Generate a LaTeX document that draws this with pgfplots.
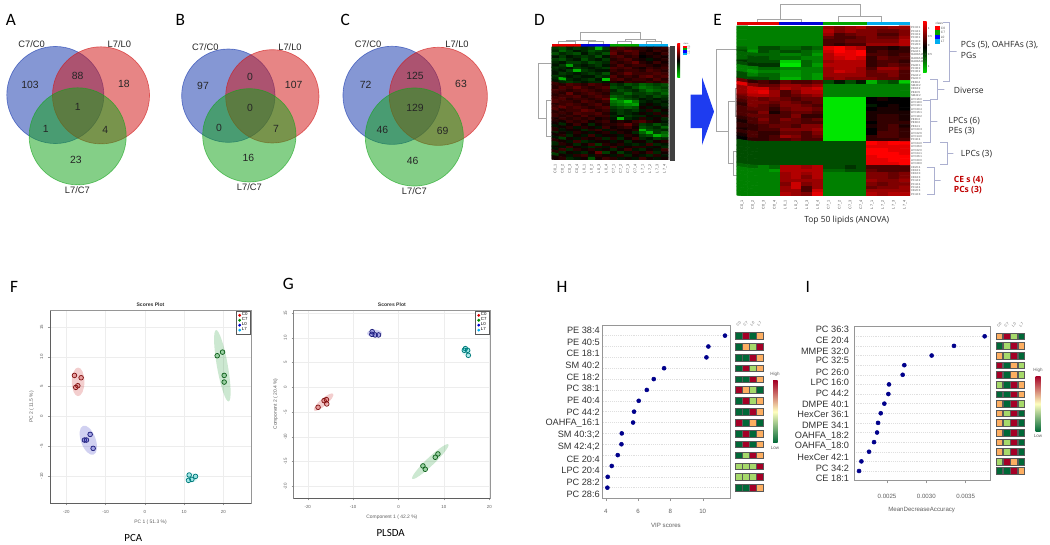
\documentclass[border=0pt]{standalone}
\usepackage{fontspec}
\usepackage{pgfplots}
\pgfplotsset{compat=1.18}
\setmainfont{Liberation Sans}
\newfontfamily\capfont{Carlito}
\newfontfamily\notefont{Open Sans}
\newcommand\fs[1]{\fontsize{#1}{#1}\selectfont}

\definecolor{vblue}{RGB}{21,55,173}
\definecolor{vred}{RGB}{209,21,21}
\definecolor{vgreen}{RGB}{19,163,25}
\definecolor{cz}{RGB}{200,30,30}
\definecolor{cs}{RGB}{25,150,45}
\definecolor{lz}{RGB}{45,45,190}
\definecolor{ls}{RGB}{0,190,190}
\definecolor{bracec}{RGB}{172,176,208}
\definecolor{dend}{RGB}{165,165,165}
\definecolor{boxg}{RGB}{150,150,150}
\definecolor{axg}{RGB}{95,95,95}
\definecolor{tzero}{RGB}{0,104,55}
\definecolor{tone}{RGB}{166,217,106}
\definecolor{ttwo}{RGB}{253,174,97}
\definecolor{tthree}{RGB}{165,0,38}
\definecolor{tmid}{RGB}{255,255,191}

\pgfplotsset{
  overlay/.style args={#1/#2/#3/#4}{at={(0,0)},anchor=north west,width=787.5pt,height=408.75pt,
    scale only axis,axis lines=none,clip=false,y dir=reverse,
    xmin=#1,xmax=#2,ymin=#3,ymax=#4},
  venn/.style 2 args={only marks,forget plot,mark=*,mark size=#1,
    mark options={draw=#2,fill=#2,fill opacity=.52,draw opacity=.6,line width=.5pt}},
  ring/.style={only marks,forget plot,mark=*,mark size=1.75pt,
    mark options={draw=#1!65!black,fill=#1,fill opacity=.28,line width=.55pt}},
  blob/.style 2 args={only marks,forget plot,mark=*,mark options={draw=#1,draw opacity=0,fill=#1,fill opacity=.22,#2}},
  scores/.style={scale only axis,anchor=north west,axis line style={boxg,line width=.5pt},
    grid=major,grid style={gray!14,line width=.25pt},tick style={boxg,line width=.3pt},
    major tick length=1.6pt,tick align=outside,xtick pos=bottom,ytick pos=left,
    /pgf/number format/assume math mode=true,
    tick label style={font=\fs{3.3},text=axg},
    y tick label style={rotate=90,anchor=south},
    title style={font=\bfseries\fs{3.8},text=black!80,yshift=-7.5pt},
    label style={font=\fs{3.7},text=axg},
    legend style={at={(1,1)},anchor=north east,draw=black!65,line width=.5pt,font=\fs{3.3},
      inner xsep=1.6pt,inner ysep=.5pt,row sep=-1.7pt,nodes={inner sep=.8pt}},
    legend cell align=left},
  vip/.style={scale only axis,anchor=north west,axis line style={boxg,line width=.7pt},
    ytick={1,...,15},yticklabels={},ytick style={draw=none},
    ymajorgrids,grid style={gray!25,densely dotted,line width=.3pt},
    tick style={boxg,line width=.3pt},xtick pos=bottom,tick align=outside,major tick length=2pt,
    tick label style={font=\fs{4.6},text=axg},label style={font=\fs{4.6},text=axg},
    /pgf/number format/assume math mode=true},
  heat/.style={scale only axis,anchor=north west,enlargelimits=false,axis line style={draw=none},
    major tick length=0pt,xtick={0,...,15},
    colormap={gbr}{rgb=(0,1,0) rgb=(0,0,0) rgb=(1,0,0)},
    x tick label style={rotate=90,anchor=east,font=\fs{2.8},text=black!70}},
}
% tiles of one colour: column and row of each tile
\newcommand\tiles[5]{\addplot[only marks,mark=square*,mark size=2.5pt,
    mark options={draw=black!65,fill=#5,line width=.3pt}]
  table[row sep=crcr,header=false,x expr={#1+#2*\thisrowno{0}},y expr={#3+#4*\thisrowno{1}}]}
\newcommand\cnt[3]{\node[font=\fs{7.8},text=black!85] at (axis cs:#1,#2) {#3};}
\newcommand\vlab[3]{\node[font=\fs{7},text=black!85] at (axis cs:#1,#2) {#3};}
\newcommand\panel[3]{\node[font=\capfont\fs{13}] at (axis cs:#1,#2) {#3};}
\newcommand\note[3]{\node[font=\notefont\fs{6.4},text=black!85,anchor=west,inner sep=0] at (axis cs:#1,#2) {#3};}
\newcommand\rednote[3]{\node[font=\notefont\bfseries\fs{6.4},text=red!75!black,anchor=west,inner sep=0] at (axis cs:#1,#2) {#3};}
\newcommand\lip[3]{\node[font=\fs{6.9},text=black!80,anchor=east,inner sep=0] at (axis cs:#1,#2) {#3};}
\newcommand\tinyl[4]{\node[font=\fs{#1},text=black!70,anchor=west,inner sep=0] at (axis cs:#2,#3) {#4};}
\newcommand\colh[3]{\node[font=\fs{2.8},text=black!60,rotate=45] at (axis cs:#1,#2) {#3};}

\begin{document}
\begin{tikzpicture}
\useasboundingbox (0,0) rectangle (787.5pt,-408.75pt);

% ---------- Venn diagrams A B C, coordinates are 3x picture pixels
\begin{axis}[overlay=0/3150/0/1635]
\addplot[venn={36.4pt}{vblue}] coordinates {(166,285)};
\addplot[venn={36.4pt}{vred}] coordinates {(303,286)};
\addplot[venn={36.4pt}{vgreen}] coordinates {(233,409)};
\addplot[venn={35pt}{vblue}] coordinates {(685,287)};
\addplot[venn={35pt}{vred}] coordinates {(817,289)};
\addplot[venn={35pt}{vgreen}] coordinates {(748,406)};
\addplot[venn={36.8pt}{vblue}] coordinates {(1176,286)};
\addplot[venn={36.8pt}{vred}] coordinates {(1315,289)};
\addplot[venn={36.8pt}{vgreen}] coordinates {(1243,411)};
\end{axis}
\begin{axis}[overlay=0/3150/0/1635]
\cnt{90}{255}{103}\cnt{233}{228}{88}\cnt{372}{251}{18}\cnt{233}{322}{1}\cnt{137}{386}{1}\cnt{316}{390}{4}\cnt{228}{480}{23}
\cnt{609}{257}{97}\cnt{750}{232}{0}\cnt{881}{255}{107}\cnt{750}{323}{0}\cnt{657}{385}{0}\cnt{828}{386}{7}\cnt{745}{473}{16}
\cnt{1097}{256}{72}\cnt{1245}{229}{125}\cnt{1383}{253}{63}\cnt{1245}{325}{129}\cnt{1147}{390}{46}\cnt{1328}{393}{69}\cnt{1238}{484}{46}
\vlab{95}{133}{C7/C0}\vlab{358}{133}{L7/L0}\vlab{232}{570}{L7/C7}
\vlab{616}{142}{C7/C0}\vlab{870}{142}{L7/L0}\vlab{748}{560}{L7/C7}
\vlab{1104}{133}{C7/C0}\vlab{1371}{133}{L7/L0}\vlab{1243}{574}{L7/C7}
\panel{33}{60}{A}\panel{541}{60}{B}\panel{1036}{60}{C}
\end{axis}

% ---------- annotation of D and E
\begin{axis}[overlay=-1590/1560/0/1635]
\panel{28}{60}{D}\panel{563}{60}{E}
% class bars
\addplot[fill=red!90!black,draw=none] coordinates {(65,131)(153,131)(153,140)(65,140)} --cycle;
\addplot[fill=blue!85!black,draw=none] coordinates {(153,131)(241,131)(241,140)(153,140)} --cycle;
\addplot[fill=green!65!black,draw=none] coordinates {(241,131)(328,131)(328,140)(241,140)} --cycle;
\addplot[fill=cyan,draw=none] coordinates {(328,131)(415,131)(415,140)(328,140)} --cycle;
\addplot[fill=red!90!black,draw=none] coordinates {(620,66)(748,66)(748,76)(620,76)} --cycle;
\addplot[fill=blue!85!black,draw=none] coordinates {(748,66)(878,66)(878,76)(748,76)} --cycle;
\addplot[fill=green!65!black,draw=none] coordinates {(878,66)(1010,66)(1010,76)(878,76)} --cycle;
\addplot[fill=cyan,draw=none] coordinates {(1010,66)(1140,66)(1140,76)(1010,76)} --cycle;
% dendrograms of D
\addplot[dend,line width=.45pt] coordinates {(110,125)(110,120)(151,120)(151,97)(330,97)(330,118)(285,118)(285,125)};
\addplot[dend,line width=.45pt] coordinates {(195,125)(195,120)(151,120)};
\addplot[dend,line width=.45pt] coordinates {(375,125)(375,118)(330,118)};
\addplot[dend,line width=.35pt] coordinates {(85,131)(85,125)(135,125)(135,131)};
\addplot[dend,line width=.35pt] coordinates {(175,131)(175,125)(220,125)(220,131)};
\addplot[dend,line width=.35pt] coordinates {(262,131)(262,125)(305,125)(305,131)};
\addplot[dend,line width=.35pt] coordinates {(350,131)(350,125)(395,125)(395,131)};
\addplot[dend,line width=.45pt] coordinates {(62,190)(25,190)(25,355)(50,355)(50,300)(62,300)};
\addplot[dend,line width=.45pt] coordinates {(50,355)(50,410)(62,410)};
% dendrograms of E
\addplot[dend,line width=.55pt] coordinates {(683,66)(683,58)(750,58)(750,14)(990,14)(990,50)(925,50)(925,66)};
\addplot[dend,line width=.55pt] coordinates {(815,66)(815,58)(750,58)};
\addplot[dend,line width=.55pt] coordinates {(1055,66)(1055,50)(990,50)};
\addplot[dend,line width=.55pt] coordinates {(620,148)(560,148)(560,395)(595,395)(595,305)(615,305)};
\addplot[dend,line width=.55pt] coordinates {(620,265)(615,265)(615,350)(620,350)};
\addplot[dend,line width=.55pt] coordinates {(595,395)(595,490)(610,490)};
\addplot[dend,line width=.55pt] coordinates {(620,455)(610,455)(610,525)(620,525)};
% dark strip right of D
\addplot[fill=black!75,draw=none] coordinates {(420,137)(436,137)(436,482)(420,482)} --cycle;
\addplot[fill=black!40,draw=none] coordinates {(416,141)(420,141)(420,480)(416,480)} --cycle;
% colour keys
\shade[top color=red,bottom color=green!85!black,middle color=black] (axis cs:442,131) rectangle (axis cs:450,232);
\shade[top color=red,bottom color=green!85!black,middle color=black] (axis cs:1179,65) rectangle (axis cs:1190,218);
\addplot[fill=red,draw=none] coordinates {(460,137)(470,137)(470,144)(460,144)} --cycle;
\addplot[fill=green!65!black,draw=none] coordinates {(460,144)(470,144)(470,151)(460,151)} --cycle;
\addplot[fill=blue,draw=none] coordinates {(460,151)(470,151)(470,158)(460,158)} --cycle;
\addplot[fill=cyan,draw=none] coordinates {(460,158)(470,158)(470,165)(460,165)} --cycle;
\addplot[fill=red,draw=none] coordinates {(1215,78)(1230,78)(1230,91)(1215,91)} --cycle;
\addplot[fill=green!65!black,draw=none] coordinates {(1215,91)(1230,91)(1230,105)(1215,105)} --cycle;
\addplot[fill=blue,draw=none] coordinates {(1215,105)(1230,105)(1230,118)(1215,118)} --cycle;
\addplot[fill=cyan,draw=none] coordinates {(1215,118)(1230,118)(1230,132)(1215,132)} --cycle;
\tinyl{2.4}{1232}{84}{C0}\tinyl{2.4}{1232}{98}{C7}\tinyl{2.4}{1232}{111}{L0}\tinyl{2.4}{1232}{125}{L7}
\tinyl{2.4}{1216}{71}{class}
\tinyl{1.6}{472}{140}{C0}\tinyl{1.6}{472}{147}{C7}\tinyl{1.6}{472}{154}{L0}\tinyl{1.6}{472}{161}{L7}
\tinyl{1.6}{460}{132}{class}
\tinyl{2.2}{1193}{84}{1}\tinyl{2.2}{1193}{110}{0.5}\tinyl{2.2}{1193}{136}{0}\tinyl{2.2}{1193}{162}{0.5}\tinyl{2.2}{1193}{198}{1}
% arrow
\addplot[fill={rgb,255:red,30;green,60;blue,240},draw=none] coordinates
  {(482,284)(516,284)(516,232)(552,335)(516,435)(516,384)(482,384)} --cycle;
% brackets
\addplot[bracec,line width=.55pt] coordinates {(1238,68)(1258,68)(1258,155)(1280,155)(1258,155)(1258,245)(1238,245)};
\addplot[bracec,line width=.55pt] coordinates {(1200,237)(1222,237)(1222,268)(1243,268)(1222,268)(1222,298)(1200,298)};
\addplot[bracec,line width=.55pt] coordinates {(1180,300)(1200,300)(1200,365)(1222,365)(1200,365)(1200,428)(1180,428)};
\addplot[bracec,line width=.55pt] coordinates {(1230,428)(1252,428)(1252,460)(1270,460)(1252,460)(1252,493)(1230,493)};
\addplot[bracec,line width=.55pt] coordinates {(1190,502)(1212,502)(1212,542)(1232,542)(1212,542)(1212,582)(1190,582)};
\note{1292}{135}{PCs (5), OAHFAs (3),}\note{1292}{165}{PGs}\note{1271}{272}{Diverse}
\note{1255}{362}{LPCs (6)}\note{1255}{393}{PEs (3)}\note{1292}{461}{LPCs (3)}
\rednote{1271}{540}{CE s (4)}\rednote{1271}{570}{PCs (3)}
\node[font=\notefont\fs{6.35},text=black!85] at (axis cs:950,661) {Top 50 lipids (ANOVA)};
\end{axis}

% ---------- heat map D
\begin{axis}[heat,at={(413.78pt,-35.25pt)},width=87.45pt,height=84.75pt,y dir=reverse,
  xmin=-.5,xmax=15.5,ymin=-.5,ymax=39.5,ytick=\empty,point meta min=-13,point meta max=13,
  xticklabels={C0\_1,C0\_2,C0\_3,C0\_4,L0\_1,L0\_2,L0\_3,L0\_4,C7\_1,C7\_2,C7\_3,C7\_4,L7\_1,L7\_2,L7\_3,L7\_4}]
\addplot[matrix plot*,mesh/cols=16,point meta=explicit] table[row sep=crcr,header=false,meta index=0,
  x expr={mod(\coordindex,16)},y expr={floor(\coordindex/16)}] {
-3\\-4\\-2\\-3\\-2\\-3\\-9\\-3\\3\\4\\3\\2\\2\\1\\2\\3\\
-2\\-5\\-3\\-1\\-2\\-4\\-3\\-2\\4\\3\\5\\4\\2\\1\\3\\2\\
-4\\-2\\-3\\-4\\-1\\-3\\-2\\-4\\5\\2\\3\\4\\1\\2\\1\\3\\
-1\\-3\\-1\\-2\\-3\\-2\\-4\\-1\\3\\4\\2\\3\\0\\1\\2\\1\\
-3\\-4\\-2\\-1\\-4\\-2\\-1\\-3\\2\\3\\4\\2\\1\\-1\\1\\2\\
-2\\-1\\-3\\-3\\-2\\-4\\-3\\-2\\3\\2\\3\\5\\2\\1\\3\\1\\
-1\\-3\\-8\\-2\\-1\\-2\\-3\\-1\\2\\4\\2\\3\\3\\2\\1\\2\\
-3\\-2\\-1\\-3\\-2\\-1\\-2\\-3\\4\\3\\4\\2\\1\\3\\2\\3\\
-2\\-1\\-3\\-9\\-3\\-2\\-1\\-1\\3\\2\\3\\3\\2\\4\\3\\2\\
-1\\-3\\-2\\-1\\-2\\-3\\-2\\-4\\2\\3\\5\\3\\3\\3\\4\\3\\
-3\\-2\\-1\\-2\\-1\\-1\\-3\\-2\\4\\2\\3\\2\\4\\5\\3\\4\\
-2\\-9\\-2\\-1\\-2\\-3\\-1\\-10\\3\\4\\2\\3\\3\\2\\4\\2\\
-1\\-2\\-3\\-2\\-1\\-2\\-2\\-1\\2\\1\\3\\2\\2\\3\\2\\3\\
3\\2\\4\\3\\2\\4\\3\\2\\-3\\-2\\-4\\-3\\-5\\-4\\-3\\-4\\
2\\4\\3\\5\\3\\2\\3\\4\\-4\\-3\\-2\\-4\\-6\\-5\\-4\\-3\\
4\\3\\2\\3\\4\\3\\2\\3\\-2\\-4\\-3\\-2\\-4\\-6\\-5\\-4\\
3\\2\\5\\2\\3\\4\\3\\2\\-3\\-3\\-5\\-3\\-3\\-4\\-3\\-5\\
2\\3\\3\\4\\2\\3\\4\\3\\-5\\-4\\-3\\-2\\-3\\-2\\-4\\-3\\
3\\4\\2\\3\\3\\2\\3\\5\\-9\\-5\\-4\\-3\\-1\\-2\\-1\\-2\\
4\\3\\3\\2\\4\\3\\2\\3\\-6\\-7\\-10\\-6\\-2\\-1\\-2\\-1\\
2\\3\\4\\3\\2\\3\\4\\2\\-5\\-6\\-7\\-8\\-1\\1\\-1\\-2\\
3\\5\\3\\4\\3\\2\\3\\4\\-3\\-4\\-5\\-4\\1\\-1\\1\\-1\\
4\\2\\3\\3\\5\\4\\2\\3\\-2\\-3\\-2\\-3\\-1\\2\\-2\\1\\
2\\3\\2\\4\\3\\3\\4\\2\\-1\\-3\\-2\\-1\\1\\-1\\2\\-1\\
3\\2\\3\\2\\4\\2\\3\\3\\-2\\-1\\-3\\-2\\-2\\1\\-1\\2\\
1\\3\\2\\3\\2\\3\\1\\2\\-1\\-9\\-2\\-1\\2\\-1\\1\\-2\\
2\\1\\3\\2\\3\\1\\2\\3\\1\\2\\1\\3\\4\\2\\1\\-1\\
1\\-2\\1\\3\\1\\-2\\1\\2\\2\\3\\5\\2\\-3\\-2\\-4\\-2\\
-1\\1\\2\\-1\\2\\1\\-1\\3\\1\\2\\3\\1\\-4\\-3\\-2\\-5\\
2\\-1\\1\\1\\-2\\2\\3\\-1\\2\\1\\1\\2\\-9\\-4\\-3\\-2\\
-2\\1\\-1\\2\\1\\-1\\1\\2\\-1\\2\\1\\-2\\-5\\-9\\-3\\-5\\
1\\2\\-2\\1\\-1\\3\\-1\\1\\1\\-1\\2\\1\\-3\\-4\\-9\\-6\\
-1\\-3\\1\\-1\\2\\1\\2\\-2\\2\\-2\\1\\3\\-2\\-1\\-3\\-2\\
2\\1\\-1\\3\\-2\\-1\\1\\1\\-1\\1\\-2\\1\\1\\-2\\1\\2\\
-2\\2\\1\\-2\\1\\3\\-3\\2\\1\\2\\-1\\-2\\-1\\3\\-2\\-1\\
1\\-1\\3\\1\\-1\\-2\\2\\-1\\3\\-1\\1\\2\\2\\-1\\1\\-2\\
-1\\3\\-2\\2\\1\\2\\-1\\1\\-2\\1\\3\\-1\\-2\\1\\-1\\3\\
2\\-2\\1\\-1\\-2\\1\\5\\-3\\1\\-3\\-1\\2\\1\\3\\-2\\1\\
-3\\1\\-1\\2\\3\\-1\\2\\1\\-1\\2\\-2\\1\\-1\\-2\\2\\-1\\
1\\2\\-2\\-1\\1\\-4\\1\\3\\2\\-1\\1\\-1\\3\\1\\-1\\1\\
};
\end{axis}

% ---------- heat map E
\begin{axis}[heat,at={(552.53pt,-19.5pt)},width=130pt,height=127.5pt,y dir=reverse,
  xmin=-.5,xmax=15.5,ymin=-.5,ymax=49.5,ytick={0,...,49},yticklabel pos=right,point meta min=-10,point meta max=10,
  y tick label style={font=\fs{2.1},text=black!70,inner sep=.6pt},
  yticklabels={PC32:1,PC34:1,PC32:2,PC36:1,PC30:0,PC28:0,PG36:2,PG34:1,OAHFA16:1,OAHFA18:1,OAHFA18:2,PG36:1,PC38:2,PC36:2,PG34:2,PG32:0,
    PE38:4,SM40:2,CE18:2,PE40:5,SM42:2,LPC16:0,LPC18:0,LPC18:1,LPC20:4,LPC16:1,LPC18:2,PE36:2,PE38:2,PE34:1,LPC20:3,LPC22:6,LPC14:0,PC40:4,
    LPC24:0,LPC26:0,LPC22:0,LPC24:1,LPC26:1,LPC20:0,LPC28:0,CE20:4,CE18:1,CE16:0,CE18:3,PC44:2,PC42:4,PC44:4,CE20:3,PC42:3},
  xticklabels={C0\_1,C0\_2,C0\_3,C0\_4,L0\_1,L0\_2,L0\_3,L0\_4,C7\_1,C7\_2,C7\_3,C7\_4,L7\_1,L7\_2,L7\_3,L7\_4}]
\addplot[matrix plot*,mesh/cols=16,point meta=explicit] table[row sep=crcr,header=false,meta index=0,
  x expr={mod(\coordindex,16)},y expr={floor(\coordindex/16)}] {
-5\\-5\\-5\\-5\\-5\\-5\\-5\\-5\\6\\5\\6\\7\\5\\5\\6\\6\\
-5\\-5\\-5\\-5\\-5\\-5\\-5\\-5\\7\\5\\6\\5\\5\\4\\4\\5\\
-5\\-5\\-5\\-5\\-5\\-5\\-5\\-5\\6\\3\\4\\5\\5\\3\\3\\5\\
-5\\-5\\-5\\-5\\-5\\-5\\-5\\-5\\4\\3\\3\\4\\5\\4\\4\\6\\
-5\\-5\\-5\\-5\\-5\\-5\\-5\\-5\\3\\3\\4\\4\\5\\5\\5\\7\\
-5\\-5\\-5\\-5\\-5\\-5\\-5\\-5\\3\\2\\3\\3\\6\\6\\6\\7\\
-4\\-5\\-3\\-3\\-4\\-4\\-3\\-4\\9\\10\\8\\7\\2\\2\\1\\2\\
-3\\-6\\-3\\-4\\-3\\-3\\-4\\-5\\8\\10\\9\\10\\2\\3\\2\\2\\
-4\\-4\\-4\\-4\\-5\\-5\\-4\\-6\\7\\9\\9\\10\\3\\3\\2\\3\\
-4\\-3\\-3\\-4\\-4\\-4\\-5\\-5\\7\\8\\9\\8\\2\\4\\3\\3\\
-2\\-3\\-3\\-3\\-8\\-8\\-4\\-5\\6\\7\\7\\7\\2\\3\\3\\2\\
-3\\-2\\-2\\-2\\-9\\-9\\-4\\-6\\7\\7\\7\\7\\2\\3\\4\\3\\
-5\\-5\\-4\\-4\\-5\\-5\\-5\\-5\\6\\7\\7\\6\\3\\6\\6\\4\\
-5\\-6\\-5\\-5\\-6\\-6\\-5\\-5\\6\\8\\7\\6\\4\\5\\5\\3\\
-3\\-5\\-4\\-4\\-6\\-6\\-5\\-6\\6\\6\\6\\6\\4\\4\\5\\3\\
-3\\-3\\-3\\-4\\-7\\-7\\-5\\-6\\5\\6\\5\\5\\5\\4\\4\\3\\
4\\2\\3\\2\\4\\3\\3\\4\\-3\\-1\\-3\\-1\\-7\\-4\\-3\\-8\\
9\\5\\4\\4\\6\\6\\5\\6\\-5\\-5\\-5\\-5\\-5\\-5\\-5\\-5\\
6\\8\\8\\5\\7\\6\\7\\8\\-5\\-5\\-5\\-5\\-5\\-5\\-5\\-5\\
6\\8\\9\\6\\3\\5\\7\\7\\-5\\-5\\-5\\-5\\-5\\-5\\-5\\-5\\
5\\7\\7\\6\\3\\4\\5\\6\\-5\\-5\\-5\\-5\\-5\\-5\\-5\\-5\\
4\\5\\4\\5\\4\\3\\4\\4\\-9\\-9\\-9\\-9\\0\\1\\0\\0\\
3\\5\\5\\4\\5\\4\\3\\4\\-9\\-9\\-9\\-9\\0\\0\\0\\0\\
2\\5\\4\\3\\5\\5\\4\\3\\-9\\-9\\-9\\-9\\-1\\0\\1\\0\\
3\\4\\4\\2\\4\\5\\5\\4\\-9\\-9\\-9\\-9\\0\\1\\1\\0\\
3\\3\\5\\1\\3\\4\\4\\3\\-9\\-9\\-9\\-9\\1\\1\\1\\1\\
3\\4\\4\\3\\3\\5\\2\\2\\-9\\-9\\-9\\-9\\1\\2\\2\\1\\
2\\3\\5\\3\\5\\4\\3\\4\\-9\\-9\\-9\\-9\\1\\2\\2\\1\\
1\\3\\4\\3\\4\\4\\3\\3\\-9\\-9\\-9\\-9\\0\\2\\2\\2\\
2\\2\\3\\4\\4\\3\\5\\5\\-9\\-9\\-9\\-9\\1\\2\\3\\1\\
1\\2\\3\\3\\5\\5\\5\\6\\-9\\-9\\-9\\-9\\0\\2\\3\\2\\
2\\3\\2\\2\\4\\4\\3\\5\\-9\\-9\\-9\\-9\\0\\3\\3\\2\\
1\\3\\2\\3\\6\\5\\3\\4\\-9\\-9\\-9\\-9\\2\\3\\3\\2\\
0\\2\\2\\3\\3\\4\\3\\3\\-9\\-9\\-9\\-9\\2\\2\\2\\3\\
-3\\-3\\-3\\-3\\-3\\-3\\-3\\-3\\-3\\-3\\-3\\-3\\10\\9\\10\\10\\
-3\\-3\\-3\\-3\\-3\\-3\\-3\\-3\\-3\\-3\\-3\\-3\\9\\9\\9\\9\\
-3\\-3\\-3\\-3\\-3\\-3\\-3\\-3\\-3\\-3\\-3\\-3\\10\\10\\9\\9\\
-3\\-3\\-3\\-3\\-3\\-3\\-3\\-3\\-3\\-3\\-3\\-3\\10\\10\\10\\9\\
-3\\-3\\-3\\-3\\-3\\-3\\-3\\-3\\-3\\-3\\-3\\-3\\9\\10\\10\\10\\
-3\\-3\\-3\\-3\\-3\\-3\\-3\\-3\\-3\\-3\\-3\\-3\\9\\9\\10\\10\\
-3\\-3\\-3\\-3\\-3\\-3\\-3\\-3\\-3\\-3\\-3\\-3\\9\\9\\9\\10\\
-4\\-4\\-5\\-4\\7\\7\\6\\7\\-3\\-3\\-2\\-3\\3\\3\\3\\3\\
-5\\-5\\-5\\-6\\7\\7\\7\\7\\-4\\-4\\-3\\-3\\4\\3\\3\\3\\
-5\\-5\\-5\\-5\\6\\7\\6\\7\\-5\\-5\\-5\\-5\\5\\5\\4\\5\\
-5\\-5\\-5\\-5\\6\\7\\5\\7\\-5\\-5\\-5\\-5\\5\\5\\4\\5\\
-5\\-5\\-5\\-5\\6\\6\\6\\6\\-5\\-5\\-5\\-5\\6\\5\\5\\6\\
-5\\-5\\-5\\-5\\5\\8\\5\\6\\-5\\-5\\-5\\-5\\5\\4\\5\\5\\
-5\\-5\\-5\\-5\\6\\8\\3\\6\\-5\\-5\\-5\\-5\\4\\5\\5\\6\\
-5\\-5\\-5\\-5\\6\\6\\3\\8\\-5\\-5\\-5\\-5\\6\\6\\6\\6\\
-5\\-5\\-5\\-5\\7\\6\\5\\9\\-5\\-5\\-5\\-5\\7\\6\\7\\7\\
};
\end{axis}

% ---------- F, PCA
\begin{axis}[scores,at={(37.5pt,-233.03pt)},width=150.75pt,height=144.45pt,
  xmin=-24.16,xmax=27.05,ymin=-14.59,ymax=17.74,
  xtick={-20,-10,0,10,20},ytick={-10,-5,0,5,10,15},
  title={Scores Plot},title style={at={(axis description cs:.5,1.04)},anchor=center},
  xlabel={PC 1 ( 51.3 \%)},ylabel={PC 2 ( 11.5 \%)},
  x label style={at={(axis description cs:.5,-.0986)},anchor=center},
  y label style={at={(axis description cs:-.0912,.5)},anchor=center}]
\addplot[blob={cz}{xscale=.44}] [mark size=10.75pt] coordinates {(-17.0,5.8)};
\addplot[blob={cs}{rotate=10,xscale=.15}] [mark size=27.2pt] coordinates {(19.75,8.5)};
\addplot[blob={lz}{rotate=20,xscale=.48}] [mark size=11.5pt] coordinates {(-14.4,-4.0)};
\addplot[blob={ls}{yscale=.7,fill opacity=.12}] [mark size=5pt] coordinates {(11.8,-10.3)};
\addplot[ring=cz] coordinates {(-17.93,6.88)(-16.23,6.49)(-17.08,5.15)(-17.6,4.87)};
\addplot[ring=cs] coordinates {(18.44,10.18)(19.8,10.79)(20.22,6.88)(20.22,5.76)};
\addplot[ring=lz] coordinates {(-13.93,-3.02)(-15.38,-3.97)(-14.87,-3.97)(-13.17,-5.37)};
\addplot[ring=ls] coordinates {(11.3,-9.84)(12.91,-10.07)(11.98,-10.57)(11.13,-10.74)};
\addlegendimage{only marks,mark=*,mark size=.8pt,red!85!black}
\addlegendimage{only marks,mark=*,mark size=.8pt,green!55!black}
\addlegendimage{only marks,mark=*,mark size=.8pt,blue!80!black}
\addlegendimage{only marks,mark=*,mark size=.8pt,cyan}
\legend{C0,C7,L0,L7}
\draw[axg,line width=.6pt] (rel axis cs:0,1)--(rel axis cs:0,0)--(rel axis cs:1,0);
\end{axis}

% ---------- G, PLSDA
\begin{axis}[scores,at={(220.28pt,-233.03pt)},width=147.23pt,height=140.7pt,
  xmin=-23.09,xmax=20.15,ymin=-22.42,ymax=15.47,
  xtick={-20,-10,0,10,20},ytick={-20,-15,-10,-5,0,5,10,15},
  title={Scores Plot},title style={at={(axis description cs:.5,1.043)},anchor=center},
  xlabel={Component 1 ( 42.2 \%)},ylabel={Component 2 ( 20.4 \%)},
  x label style={at={(axis description cs:.5,-.0995)},anchor=center},
  y label style={at={(axis description cs:-.0917,.503)},anchor=center}]
\addplot[blob={cz}{rotate=41,yscale=.28}] [mark size=9.5pt] coordinates {(-16.5,-3.0)};
\addplot[blob={cs}{rotate=43.6,yscale=.16}] [mark size=18.7pt] coordinates {(7.0,-15.0)};
\addplot[blob={lz}{yscale=.5}] [mark size=5.5pt] coordinates {(-5.3,10.9)};
\addplot[blob={ls}{fill opacity=.12}] [mark size=3.5pt] coordinates {(14.9,7.3)};
\addplot[ring=cz] coordinates {(-17.72,-4.04)(-16.4,-2.69)(-15.88,-2.49)(-15.81,-3.36)};
\addplot[ring=cs] coordinates {(8.68,-13.46)(8.09,-14.13)(5.37,-15.88)(5.88,-16.55)};
\addplot[ring=lz] coordinates {(-5.81,11.24)(-5.88,10.7)(-5.15,10.57)(-4.41,10.57)};
\addplot[ring=ls] coordinates {(14.71,7.81)(14.49,7.47)(15.22,7.47)(15.37,6.46)};
\addlegendimage{only marks,mark=*,mark size=.8pt,red!85!black}
\addlegendimage{only marks,mark=*,mark size=.8pt,green!55!black}
\addlegendimage{only marks,mark=*,mark size=.8pt,blue!80!black}
\addlegendimage{only marks,mark=*,mark size=.8pt,cyan}
\legend{C0,C7,L0,L7}
\draw[axg,line width=.6pt] (rel axis cs:0,1)--(rel axis cs:0,0)--(rel axis cs:1,0);
\end{axis}

% ---------- H, VIP scores
\begin{axis}[vip,at={(452.03pt,-243.75pt)},width=95.48pt,height=130pt,
  xmin=3.81,xmax=11.69,ymin=.02,ymax=15.98,xtick={4,6,8,10},
  x tick label style={yshift=-3pt},
  xlabel={VIP scores},x label style={at={(axis description cs:.497,-.158)},anchor=center}]
\addplot[only marks,mark=*,mark size=1.5pt,color={rgb,255:red,0;green,0;blue,139}] coordinates {
(11.38,15)(10.35,14)(10.23,13)(7.61,12)(6.97,11)(6.54,10)(6.04,9)(5.75,8)(5.69,7)(4.99,6)(4.97,5)(4.74,4)(4.37,3)(4.12,2)(4.10,1)};
\end{axis}

% ---------- I, MeanDecreaseAccuracy
\begin{axis}[vip,at={(640.5pt,-245pt)},width=102pt,height=115.5pt,
  xmin=.00208,xmax=.00381,ymin=-.005,ymax=16,xtick={.0025,.003,.0035},
  xticklabels={0.0025,0.0030,0.0035},scaled x ticks=false,
  x tick label style={yshift=-5pt},
  xlabel={MeanDecreaseAccuracy},x label style={at={(axis description cs:.4975,-.19)},anchor=center}]
\addplot[only marks,mark=*,mark size=1.5pt,color={rgb,255:red,0;green,0;blue,139}] coordinates {
(.003742,15)(.003352,14)(.003068,13)(.00272,12)(.002699,11)(.002525,10)(.002517,9)(.002466,8)(.00242,7)(.002386,6)(.002373,5)(.002335,4)(.002271,3)(.002174,2)(.002144,1)};
\end{axis}

% ---------- names and captions of the lower row, tiles and keys
\begin{axis}[overlay=0/3150/-810/825]
\panel{42}{52}{F}
\node[font=\capfont\fs{8.2}] at (axis cs:400,805) {PCA};
\panel{865}{42}{G}
\node[font=\capfont\fs{8.2}] at (axis cs:1172,788) {PLSDA};
\end{axis}

\begin{axis}[overlay=-1620/1530/-810/825]
\panel{66}{50}{H}
\lip{180}{181}{PE 38:4}\lip{180}{216}{PE 40:5}\lip{180}{251}{CE 18:1}\lip{180}{286}{SM 40:2}\lip{180}{321}{CE 18:2}
\lip{180}{356}{PC 38:1}\lip{180}{391}{PE 40:4}\lip{180}{426}{PC 44:2}\lip{180}{461}{OAHFA\_16:1}\lip{180}{496}{SM 40:3;2}
\lip{180}{531}{SM 42:4;2}\lip{180}{567}{CE 20:4}\lip{180}{602}{LPC 20:4}\lip{180}{637}{PC 28:2}\lip{180}{672}{PC 28:6}
\tiles{596}{20.7}{197}{32.6}{tzero}{0 0\\2 0\\0 1\\0 2\\1 2\\0 3\\0 4\\1 4\\3 5\\0 6\\0 7\\1 7\\1 8\\3 8\\0 9\\2 9\\0 10\\2 10\\0 11\\0 14\\1 14\\};
\tiles{596}{20.7}{197}{32.6}{tone}{2 1\\2 3\\2 5\\2 6\\1 11\\0 12\\1 12\\2 12\\0 13\\1 13\\2 13\\};
\tiles{596}{20.7}{197}{32.6}{ttwo}{3 0\\1 1\\3 2\\3 3\\3 4\\1 5\\3 6\\3 7\\2 8\\3 9\\3 10\\3 11\\3 14\\};
\tiles{596}{20.7}{197}{32.6}{tthree}{1 0\\3 1\\2 2\\1 3\\2 4\\0 5\\1 6\\2 7\\0 8\\1 9\\1 10\\2 11\\3 12\\3 13\\2 14\\};
\colh{596}{161}{C0}\colh{617}{161}{C7}\colh{637}{161}{L0}\colh{658}{161}{L7}
\shade[top color=tthree,bottom color=tzero,middle color=tmid] (axis cs:699,332) rectangle (axis cs:713,518);
\node[font=\fs{3.4},text=axg] at (axis cs:705,314) {High};
\node[font=\fs{3.4},text=axg] at (axis cs:705,535) {Low};
\end{axis}

\begin{axis}[overlay=-2400/750/-810/825]
\panel{23}{52}{I}
\lip{148}{178}{PC 36:3}\lip{148}{210}{CE 20:4}\lip{148}{243}{MMPE 32:0}\lip{148}{272}{PC 32:5}\lip{148}{306}{PC 26:0}
\lip{148}{338}{LPC 16:0}\lip{148}{369}{PC 44:2}\lip{148}{402}{DMPE 40:1}\lip{148}{433}{HexCer 36:1}\lip{148}{466}{DMPE 34:1}
\lip{148}{498}{OAHFA\_18:2}\lip{148}{529}{OAHFA\_18:0}\lip{148}{562}{HexCer 42:1}\lip{148}{594}{PC 34:2}\lip{148}{625}{CE 18:1}
\tiles{598}{22}{199}{28.86}{tzero}{3 0\\0 1\\3 2\\1 3\\1 4\\1 5\\0 6\\1 6\\1 7\\3 8\\3 9\\1 10\\3 10\\3 11\\3 12\\3 13\\0 14\\1 14\\};
\tiles{598}{22}{199}{28.86}{tone}{2 0\\1 1\\1 2\\3 3\\3 4\\0 5\\3 7\\1 8\\1 9\\1 11\\1 12\\0 13\\};
\tiles{598}{22}{199}{28.86}{ttwo}{0 0\\3 1\\0 2\\2 3\\2 4\\3 5\\3 6\\0 7\\0 8\\0 9\\0 10\\0 11\\0 12\\2 13\\3 14\\};
\tiles{598}{22}{199}{28.86}{tthree}{1 0\\2 1\\2 2\\0 3\\0 4\\2 5\\2 6\\2 7\\2 8\\2 9\\2 10\\2 11\\2 12\\1 13\\2 14\\};
\colh{598}{164}{C0}\colh{620}{164}{C7}\colh{642}{164}{L0}\colh{664}{164}{L7}
\shade[top color=tthree,bottom color=tzero,middle color=tmid] (axis cs:707,318) rectangle (axis cs:722,485);
\node[font=\fs{3.4},text=axg] at (axis cs:714,302) {High};
\node[font=\fs{3.4},text=axg] at (axis cs:714,498) {Low};
\end{axis}
\end{tikzpicture}
\end{document}
